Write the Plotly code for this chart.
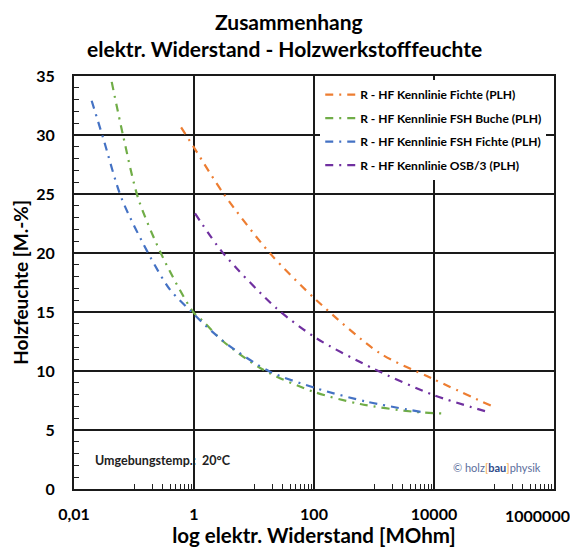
import plotly.graph_objects as go

# Data (x: resistance in MOhm, y: moisture in M.-%)
fichte_x = [0.61, 1.04, 3.08, 18.5, 110, 1259, 9120, 97000]
fichte_y = [30.65, 28.8, 25.06, 19.97, 16.0, 11.5, 9.38, 6.97]

buche_x = [0.0425, 0.0664, 0.118, 0.308, 0.97, 1.43, 3.08, 14.3, 97, 589, 4520, 13400]
buche_y = [34.5, 29.86, 24.6, 19.55, 15.0, 14.2, 12.5, 10.1, 8.25, 7.2, 6.55, 6.4]

fshfichte_x = [0.0197, 0.0308, 0.0624, 0.185, 0.398, 0.915, 1.63, 3.73, 18.5, 110, 754, 6600]
fshfichte_y = [32.9, 29.7, 24.6, 19.7, 16.9, 15.0, 13.75, 12.2, 9.94, 8.53, 7.4, 6.5]

osb_x = [1.04, 3.08, 23.9, 110, 977, 9750, 70800]
osb_y = [23.36, 19.97, 15.3, 12.77, 10.2, 7.97, 6.6]

series_names = [
    "R - HF Kennlinie Fichte (PLH)",
    "R - HF Kennlinie FSH Buche (PLH)",
    "R - HF Kennlinie FSH Fichte (PLH)",
    "R - HF Kennlinie OSB/3 (PLH)",
]
series_colors = ["#ED7D31", "#70AD47", "#4472C4", "#7030A0"]

x_tickvals = [0.01, 1, 100, 10000, 1000000]
x_ticktext = ["0,01", "1", "100", "10000", ""]
last_x_label = "1000000"

FONT = "Lato"

fig = go.Figure()
data = [(fichte_x, fichte_y), (buche_x, buche_y), (fshfichte_x, fshfichte_y), (osb_x, osb_y)]
for i, ((xs, ys), name, col) in enumerate(zip(data, series_names, series_colors)):
    fig.add_trace(go.Scatter(
        x=xs, y=ys, mode="lines", name=name, legendgroup=f"g{i}",
        line=dict(color=col, width=2.2, dash="8px,6px,2px,6px", shape="spline", smoothing=0.8),
    ))

minor_x = []
for base in [0.1, 10, 1000, 100000]:
    minor_x += [base * k for k in range(1, 10)]

# The page body adds an 8px offset, so the figure is 8px smaller with 8px less left/top margin.
fig.update_layout(
    width=570, height=545,
    margin=dict(l=66, r=24, t=68, b=64, autoexpand=False),
    paper_bgcolor="white", plot_bgcolor="white",
    font=dict(family=FONT, color="black"),
    showlegend=True,
    legend=dict(
        x=0.513, y=0.99, xanchor="left", yanchor="top",
        bgcolor="white", borderwidth=0,
        font=dict(size=12, family=FONT, color="black", weight="bold"),
        tracegroupgap=4.5,
    ),
    xaxis=dict(
        type="log", range=[-2, 6], automargin=False,
        tickmode="array", tickvals=x_tickvals, ticktext=x_ticktext,
        tickfont=dict(size=16, family=FONT, weight="bold"),
        ticklabelstandoff=10,
        showgrid=True, gridcolor="#1a1a1a", gridwidth=1.5,
        showline=True, linecolor="#1a1a1a", linewidth=1.8, mirror=True,
        ticks="", zeroline=False,
        minor=dict(tickmode="array", tickvals=minor_x, ticks="inside", ticklen=5,
                   tickcolor="#222", tickwidth=1, showgrid=False),
        title=dict(text="<b>log elektr. Widerstand [MOhm]</b>",
                   font=dict(size=20.5, family=FONT), standoff=6),
    ),
    yaxis=dict(
        range=[0, 35], dtick=5, tick0=0, automargin=False,
        tickfont=dict(size=16, family=FONT, weight="bold"),
        ticklabelstandoff=14,
        showgrid=True, gridcolor="#1a1a1a", gridwidth=1.5,
        showline=True, linecolor="#1a1a1a", linewidth=1.8, mirror=True,
        ticks="", zeroline=False,
        minor=dict(dtick=1, ticks="inside", ticklen=5, tickcolor="#222",
                   tickwidth=1, showgrid=False),
        title=dict(text="<b>Holzfeuchte [M.-%]</b>",
                   font=dict(size=19, family=FONT), standoff=3),
    ),
)

# Title (two lines)
fig.add_annotation(
    text="<b>Zusammenhang</b>", xref="paper", yref="paper",
    x=(289 - 74) / 480, y=(489 - 22) / 413, xanchor="center", yanchor="middle",
    showarrow=False, font=dict(size=21, family=FONT, color="black"),
)
fig.add_annotation(
    text="<b>elektr. Widerstand - Holzwerkstofffeuchte</b>", xref="paper", yref="paper",
    x=(284 - 74) / 480, y=(489 - 49) / 413, xanchor="center", yanchor="middle",
    showarrow=False, font=dict(size=21, family=FONT, color="black"),
)

# Last x tick label, shifted inside the figure as in the reference
fig.add_annotation(
    text=f"<b>{last_x_label}</b>", xref="paper", yref="paper",
    x=1, y=0, xanchor="right", yanchor="middle", xshift=18, yshift=-26,
    showarrow=False, font=dict(size=16, family=FONT, color="black"),
)

fig.add_annotation(
    text="<b>Umgebungstemp.:  20°C</b>", xref="paper", yref="paper",
    x=(93 - 74) / 480, y=(489 - 460) / 413, xanchor="left", yanchor="middle",
    showarrow=False, font=dict(size=12.5, family=FONT, color="#222"),
)
fig.add_annotation(
    text="© holz<span style='color:#F4A13B'>[</span><b><span style='color:#2F4A8A'>bau</span></b>"
         "<span style='color:#F4A13B'>]</span>physik",
    xref="paper", yref="paper",
    x=(543 - 74) / 480, y=(489 - 467) / 413, xanchor="right", yanchor="middle",
    showarrow=False, font=dict(size=11, family=FONT, color="#5B6E9C"),
)

fig.write_html("out.html")
